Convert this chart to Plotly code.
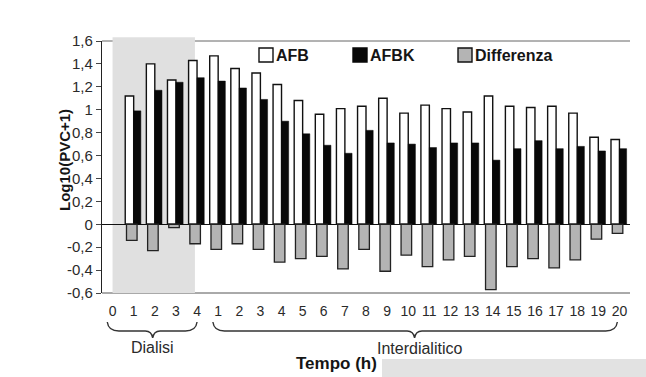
import plotly.graph_objects as go

# ---- data ----
tick_labels = ["0", "1", "2", "3", "4"] + [str(i) for i in range(1, 21)]
afb = [None, 1.12, 1.40, 1.26, 1.43, 1.47, 1.36, 1.32, 1.22, 1.08, 0.96, 1.01, 1.03,
       1.10, 0.97, 1.04, 1.01, 0.98, 1.12, 1.03, 1.02, 1.03, 0.97, 0.76, 0.74]
afbk = [None, 0.99, 1.17, 1.24, 1.28, 1.25, 1.19, 1.09, 0.90, 0.79, 0.69, 0.62, 0.82,
        0.71, 0.70, 0.67, 0.71, 0.71, 0.56, 0.66, 0.73, 0.66, 0.68, 0.64, 0.66]
differenza = [None, -0.14, -0.23, -0.03, -0.17, -0.22, -0.17, -0.22, -0.33, -0.30, -0.28,
              -0.39, -0.22, -0.41, -0.27, -0.37, -0.31, -0.28, -0.57, -0.37, -0.30,
              -0.38, -0.31, -0.13, -0.08]
y_tick_vals = [-0.6, -0.4, -0.2, 0, 0.2, 0.4, 0.6, 0.8, 1.0, 1.2, 1.4, 1.6]
y_tick_text = ["-0,6", "-0,4", "-0,2", "0", "0,2", "0,4", "0,6", "0,8", "1", "1,2", "1,4", "1,6"]
series_names = ["AFB", "AFBK", "Differenza"]

xpos = list(range(len(tick_labels)))

W, H = 646, 377
L, R, T, B = 102, 16, 41, 84
PW, PH = W - L - R, H - T - B
FONT = "Liberation Sans, Arial, sans-serif"
INK = "#151515"


def px(x):
    return (x - L) / PW


def py(y):
    return (H - B - y) / PH


fig = go.Figure()
fig.add_trace(go.Bar(x=xpos, y=afb, name=series_names[0], offset=-0.40, width=0.40,
                     marker=dict(color="white", line=dict(color="#111", width=1.4)),
                     showlegend=False))
fig.add_trace(go.Bar(x=xpos, y=afbk, name=series_names[1], offset=0.0, width=0.34,
                     marker=dict(color="#080808", line=dict(color="#080808", width=0.5)),
                     showlegend=False))
fig.add_trace(go.Bar(x=xpos, y=differenza, name=series_names[2], offset=-0.34, width=0.50,
                     marker=dict(color="#b4b4b4", line=dict(color="#222", width=1.3)),
                     showlegend=False))

shapes = []
# plot border top / bottom
shapes.append(dict(type="line", xref="paper", yref="paper", x0=0, x1=1, y0=1, y1=1,
                   line=dict(color="#666", width=1), layer="below"))
shapes.append(dict(type="line", xref="paper", yref="paper", x0=0, x1=1, y0=0, y1=0,
                   line=dict(color="#555", width=1), layer="below"))
# dialysis shading
shapes.append(dict(type="rect", xref="x", yref="paper", x0=0.0, x1=3.9, y0=0, y1=1.015,
                   fillcolor="#e0e0e0", line=dict(width=0), layer="below"))


def brace(x0, xm, x1, yt, ymid, yb, r=0.55, rm=0.35):
    return (f"M{x0},{yt} Q{x0 + 0.05},{ymid} {x0 + r},{ymid} "
            f"L{xm - rm},{ymid} Q{xm - 0.05},{ymid} {xm},{yb} "
            f"Q{xm + 0.05},{ymid} {xm + rm},{ymid} "
            f"L{x1 - r},{ymid} Q{x1 - 0.05},{ymid} {x1},{yt}")


yt, ym, yb = py(322), py(331), py(338)
shapes.append(dict(type="path", xref="x", yref="paper",
                   path=brace(-0.25, 1.9, 4.0, yt, ym, yb),
                   line=dict(color="#333", width=1.4)))
shapes.append(dict(type="path", xref="x", yref="paper",
                   path=brace(4.75, 14.3, 23.9, yt, ym, yb),
                   line=dict(color="#333", width=1.4)))

# legend boxes
legend_boxes = [(259, "white", "#111"), (353, "#080808", "#080808"), (458, "#b4b4b4", "#111")]
for x0, fill, edge in legend_boxes:
    shapes.append(dict(type="rect", xref="paper", yref="paper",
                       x0=px(x0), x1=px(x0 + 14), y0=py(62), y1=py(48),
                       fillcolor=fill, line=dict(color=edge, width=1.4)))

# bottom-right scan strip
shapes.append(dict(type="rect", xref="paper", yref="paper", x0=px(382), x1=px(W + 5),
                   y0=py(H + 5), y1=py(359), fillcolor="#e2e2e2", line=dict(width=0)))

annotations = []
for (x0, _, _), name in zip(legend_boxes, series_names):
    annotations.append(dict(xref="paper", yref="paper", x=px(x0 + 15), y=py(55),
                            xanchor="left", yanchor="middle", showarrow=False, text=name,
                            font=dict(family=FONT, size=16, color=INK, weight="bold")))
annotations.append(dict(xref="x", yref="paper", x=1.9, y=py(347), showarrow=False,
                        text="Dialisi", xanchor="center", yanchor="middle",
                        font=dict(family=FONT, size=16, color="#2a2a2a")))
annotations.append(dict(xref="x", yref="paper", x=14.55, y=py(348), showarrow=False,
                        text="Interdialitico", xanchor="center", yanchor="middle",
                        font=dict(family=FONT, size=16, color="#2a2a2a")))
annotations.append(dict(xref="x", yref="paper", x=10.6, y=py(363), showarrow=False,
                        text="Tempo (h)", xanchor="center", yanchor="middle",
                        font=dict(family=FONT, size=17, color=INK, weight="bold")))
annotations.append(dict(xref="paper", yref="paper", x=px(64), y=py(160), showarrow=False,
                        text="Log10(PVC+1)", textangle=-90, xanchor="center",
                        yanchor="middle",
                        font=dict(family=FONT, size=15, color=INK, weight="bold")))

fig.update_layout(
    width=W, height=H,
    margin=dict(l=L, r=R, t=T, b=B, pad=0),
    paper_bgcolor="white", plot_bgcolor="rgba(0,0,0,0)",
    barmode="overlay",
    shapes=shapes, annotations=annotations,
    font=dict(family=FONT, color="#222"),
)
fig.update_xaxes(range=[-0.5, 24.5], tickmode="array", tickvals=xpos, ticktext=tick_labels,
                 ticks="", showgrid=False, zeroline=False, showline=False,
                 tickfont=dict(family=FONT, size=14, color="#2a2a2a"), ticklabelstandoff=8)
fig.update_yaxes(range=[-0.6, 1.6], tickmode="array", tickvals=y_tick_vals,
                 ticktext=y_tick_text, ticks="outside", ticklen=5, tickcolor="#444",
                 showgrid=False, zeroline=True, zerolinecolor="#111", zerolinewidth=1,
                 showline=True, linecolor="#222", linewidth=1.2,
                 tickfont=dict(family=FONT, size=15, color="#2a2a2a"))

fig.write_html("out.html", config={"displayModeBar": False},
               post_script="document.body.style.margin='0px';document.body.style.overflow='hidden';")
